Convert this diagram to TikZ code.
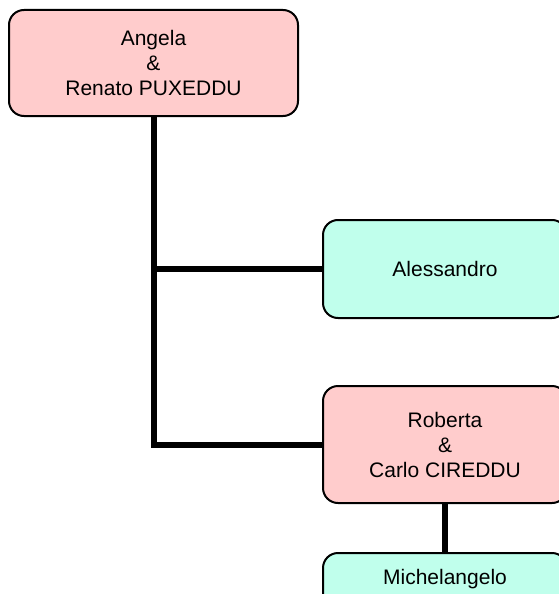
\documentclass[tikz,border=0pt]{standalone}
\usepackage{fontspec}
\setmainfont{Liberation Sans}
\definecolor{pinkfill}{RGB}{255,204,204}
\definecolor{cyanfill}{RGB}{192,255,236}
\begin{document}
\begin{tikzpicture}[x=1pt,y=-1pt,
  box/.style={draw=black,line width=2pt,rounded corners=15pt,align=center,inner sep=0pt,
    font=\fontsize{21}{25}\selectfont},
  couple/.style={box,fill=pinkfill},
  single/.style={box,fill=cyanfill},
  conn/.style={line width=6pt,line join=miter,black}]
\useasboundingbox (0,0) rectangle (559,594);
\clip (0,0) rectangle (559,594);
\node[couple,minimum width=289pt,minimum height=106pt] (top) at (153.5,63) {Angela\\\&\\Renato PUXEDDU};
\node[single,minimum width=244pt,minimum height=98pt] (ales) at (445,269) {Alessandro};
\node[couple,minimum width=244pt,minimum height=117pt] (rob) at (445,444.5) {Roberta\\\&\\Carlo CIREDDU};
\node[single,minimum width=244pt,text height=31pt,text depth=67pt,anchor=north] (mich) at (445,552) {Michelangelo};
\draw[conn] (top.south) -- (top.south |- rob.west) -- (rob.west);
\draw[conn] (top.south |- ales.west) -- (ales.west);
\draw[conn] (rob.south) -- (mich.north);
\end{tikzpicture}
\end{document}
